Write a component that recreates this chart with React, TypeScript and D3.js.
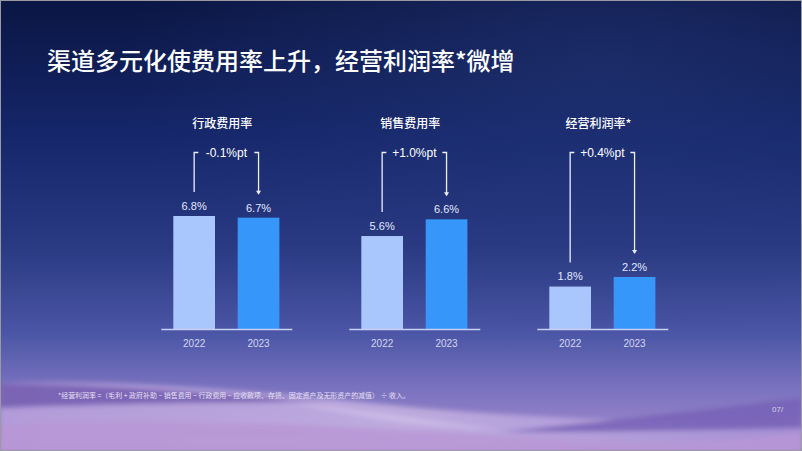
import React from 'react'
import * as d3 from 'd3'

const W = 802
const H = 451

// data
const panels = ['行政费用率', '销售费用率', '经营利润率*']
const years = ['2022', '2023']
const values2022 = [6.8, 5.6, 1.8]
const values2023 = [6.7, 6.6, 2.2]
const deltaLabels = ['-0.1%pt', '+1.0%pt', '+0.4%pt']
const yMax = [6.8, 6.8, 2.2]
const title = '渠道多元化使费用率上升，经营利润率*微增'
const footnote = '*经营利润率 =（毛利 + 政府补助 − 销售费用 − 行政费用 − 应收款项、存货、固定资产及无形资产的减值） ÷ 收入。'
const pageNo = '07/'

const barColors: Record<string, string> = { '2022': '#a9c7fd', '2023': '#3796fa' }
const CJK = '"Noto Sans CJK SC", "Noto Sans", sans-serif'
const NUM = '"Liberation Sans", Arial, "Noto Sans", sans-serif'

export default function App() {
  const baseY = 329.5
  const outer = d3.scaleBand<string>().domain(panels).range([132.3, 696.3])
  const inner = d3.scaleBand<string>().domain(years).range([41, 147.1]).paddingInner(0.3525)
  const yFor = (i: number) =>
    d3.scaleLinear().domain([0, yMax[i]]).range([baseY, i === 2 ? 277 : 216])
  const bracketTop = 152.5

  return (
    <div style={{ position: 'fixed', left: 0, top: 0 }}>
      <svg width={W} height={H} style={{ display: 'block' }}>
        <defs>
          <linearGradient id="bg" x1="0" y1="0" x2="0" y2="1">
            <stop offset="0" stopColor="#0a1643" />
            <stop offset="0.3" stopColor="#15266a" />
            <stop offset="0.55" stopColor="#2a3a83" />
            <stop offset="0.74" stopColor="#4b56a6" />
            <stop offset="0.85" stopColor="#7670bd" />
            <stop offset="1" stopColor="#a88dd0" />
          </linearGradient>
          <radialGradient id="glow" cx="0.75" cy="0.15" r="0.6">
            <stop offset="0" stopColor="#2a3d80" stopOpacity="0.45" />
            <stop offset="1" stopColor="#2a3d80" stopOpacity="0" />
          </radialGradient>
          <linearGradient id="wLight" x1="0" y1="0" x2="1" y2="0">
            <stop offset="0" stopColor="#b9a0dc" />
            <stop offset="0.5" stopColor="#c6b2e2" />
            <stop offset="1" stopColor="#a792d6" />
          </linearGradient>
          <filter id="soft" x="-10%" y="-50%" width="120%" height="200%">
            <feGaussianBlur stdDeviation="2.5" />
          </filter>
        </defs>

        <rect width={W} height={H} fill="url(#bg)" />
        <rect width={W} height={H} fill="url(#glow)" />

        {/* decorative waves */}
        <g filter="url(#soft)">
          <path d="M0,384 C120,378 260,392 420,408 C560,420 700,425 802,420 L802,451 L0,451 Z" fill="url(#wLight)" opacity="0.85" />
          <path d="M0,384 C90,383 200,392 330,402 C220,402 100,404 0,408 Z" fill="#6f57ad" opacity="0.8" />
          <path d="M802,398 C740,405 640,418 500,432 C620,432 720,430 802,428 Z" fill="#7660b6" opacity="0.85" />
          <path d="M0,425 C200,415 420,430 560,440 C660,446 740,440 802,432 L802,451 L0,451 Z" fill="#b996d6" opacity="0.8" />
          <path d="M280,400 C360,410 430,420 500,430 C430,428 360,418 280,400 Z" fill="#d6c6ec" opacity="0.6" />
        </g>

        <text x={47} y={62} dy="0.35em" fill="#ffffff" fontFamily={CJK} fontSize={24} fontWeight={500}>
          {title}
        </text>

        {panels.map((p, i) => {
          const x0 = outer(p) ?? 0
          const cx = x0 + outer.bandwidth() / 2
          const y = yFor(i)
          const vals = [values2022[i], values2023[i]]
          const bx = years.map(yr => x0 + (inner(yr) ?? 0) + inner.bandwidth() / 2)
          const tops = vals.map(v => y(v))
          const midX = (bx[0] + bx[1]) / 2
          const gap = 28
          const leftEnd = tops[0] - 24
          const rightEnd = tops[1] - 24
          return (
            <g key={p}>
              <text x={cx - 4} y={124} dy="0.35em" textAnchor="middle" fill="#ffffff" fontFamily={CJK} fontSize={12} fontWeight={500}>
                {p}
              </text>
              {years.map((yr, j) => (
                <rect key={yr} x={x0 + (inner(yr) ?? 0)} y={tops[j]} width={inner.bandwidth()} height={baseY - tops[j]} fill={barColors[yr]} />
              ))}
              <line x1={cx - 65} x2={cx + 66} y1={baseY} y2={baseY} stroke="#c7cff3" strokeWidth={1.5} />
              {years.map((yr, j) => (
                <text key={'v' + yr} x={bx[j]} y={tops[j] - 10} dy="0.35em" textAnchor="middle" fill="#e2e8ff" fontFamily={NUM} fontSize={11}>
                  {d3.format('.1f')(vals[j])}%
                </text>
              ))}
              {years.map((yr, j) => (
                <text key={'y' + yr} x={bx[j]} y={343} dy="0.35em" textAnchor="middle" fill="#d3d7f0" fontFamily={NUM} fontSize={10}>
                  {yr}
                </text>
              ))}
              <path
                d={`M${bx[0]},${leftEnd} V${bracketTop} H${midX - gap} M${midX + gap},${bracketTop} H${bx[1]} V${rightEnd}`}
                fill="none" stroke="#eaeeff" strokeWidth={1.3}
              />
              <path d={`M${bx[1] - 2.5},${rightEnd - 3} L${bx[1] + 2.5},${rightEnd - 3} L${bx[1]},${rightEnd + 1} Z`} fill="#eaeeff" />
              <text x={midX} y={bracketTop} dy="0.35em" textAnchor="middle" fill="#ffffff" fontFamily={NUM} fontSize={12}>
                {deltaLabels[i]}
              </text>
            </g>
          )
        })}

        <text x={58} y={396} dy="0.35em" fill="#e6e0f5" fontFamily={CJK} fontSize={6.95}>
          {footnote}
        </text>
        <text x={772} y={409} dy="0.35em" fill="#d9d2f0" fontFamily={NUM} fontSize={8}>
          {pageNo}
        </text>
        <rect x={0.5} y={0.5} width={W - 1} height={H - 1} fill="none" stroke="#9a9aa2" strokeWidth={1} />
      </svg>
    </div>
  )
}
